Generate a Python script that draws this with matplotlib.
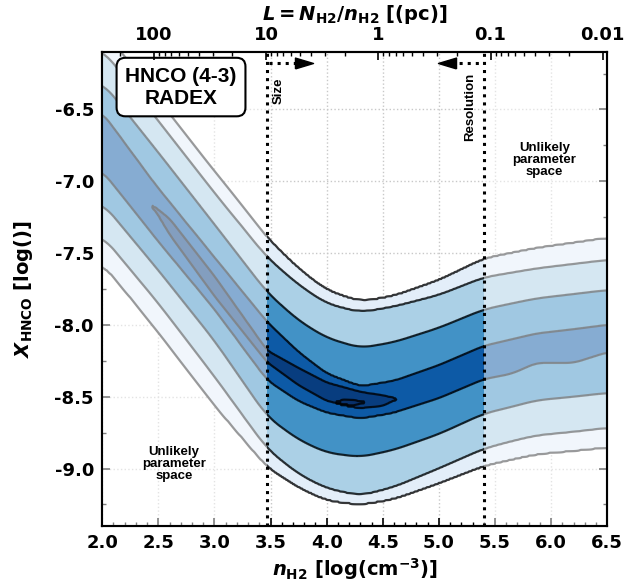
import numpy as np
import matplotlib
matplotlib.use("Agg")
import matplotlib.pyplot as plt
from matplotlib.ticker import FormatStrFormatter

plt.rcParams.update({
    "font.family": "DejaVu Sans",
    "font.weight": "bold",
    "axes.labelweight": "bold",
    "mathtext.fontset": "custom",
    "mathtext.rm": "DejaVu Sans:bold",
    "mathtext.it": "DejaVu Sans:italic:bold",
    "mathtext.bf": "DejaVu Sans:bold",
    "axes.linewidth": 1.5,
})

# ---- contour boundaries: log n_H2 vs log X_HNCO ----
n_pts = [2.0, 2.5, 3.0, 3.47, 3.75, 4.0, 4.3, 4.6, 5.0, 5.4, 5.65, 5.87, 6.2, 6.5]

upper_1 = [-5.94, -6.43, -6.93, -7.395, -7.61, -7.76, -7.84, -7.80, -7.69, -7.54, -7.50, -7.466, -7.43, -7.396]
upper_2 = [-6.08, -6.58, -7.08, -7.53, -7.72, -7.85, -7.91, -7.87, -7.79, -7.668, -7.635, -7.606, -7.575, -7.547]
upper_3 = [-6.31, -6.80, -7.30, -7.775, -7.97, -8.09, -8.16, -8.12, -8.02, -7.892, -7.85, -7.815, -7.785, -7.757]
upper_4 = [-6.52, -7.05, -7.53, -7.98, -8.19, -8.34, -8.43, -8.39, -8.28, -8.146, -8.10, -8.06, -8.03, -8.0]
lower_4 = [-6.93, -7.42, -7.89, -8.385, -8.53, -8.61, -8.65, -8.61, -8.51, -8.378, -8.34, -8.264, -8.265, -8.19]
lower_3 = [-7.15, -7.62, -8.11, -8.64, -8.80, -8.89, -8.92, -8.87, -8.76, -8.618, -8.57, -8.525, -8.50, -8.474]
lower_2 = [-7.38, -7.85, -8.36, -8.865, -9.04, -9.14, -9.19, -9.13, -9.00, -8.863, -8.81, -8.77, -8.745, -8.718]
lower_1 = [-7.57, -8.05, -8.56, -8.99, -9.13, -9.22, -9.25, -9.21, -9.10, -8.979, -8.935, -8.898, -8.875, -8.851]

# elongated high-probability ridge
n_ridge = [2.45, 2.6, 3.0, 3.47, 3.75, 4.0, 4.3, 4.5, 4.62]
upper_5 = [-7.17, -7.26, -7.66, -8.18, -8.30, -8.40, -8.465, -8.49, -8.515]
lower_5 = [-7.17, -7.37, -7.80, -8.26, -8.42, -8.53, -8.58, -8.565, -8.515]

# peak
n_peak = [4.09, 4.15, 4.25, 4.33]
upper_6 = [-8.54, -8.52, -8.525, -8.54]
lower_6 = [-8.54, -8.56, -8.56, -8.54]

band_colors = ["#e3eef9", "#abd0e6", "#4292c6", "#0d5aa6", "#083d7f", "#08306b"]

size_limit = 3.47
resolution_limit = 5.40
n_at_1pc = 4.46
L_ticks = [100, 10, 1, 0.1, 0.01]
L_labels = ["100", "10", "1", "0.1", "0.01"]


def smooth(v, width):
    pad = width // 2
    vp = np.concatenate([np.full(pad, v[0]), v, np.full(pad, v[-1])])
    return np.convolve(vp, np.ones(width) / width, mode="valid")


def curve(xf, xp, yp, width):
    out = np.full(xf.shape, np.nan)
    m = (xf >= xp[0]) & (xf <= xp[-1])
    out[m] = smooth(np.interp(xf[m], xp, yp), width)
    return out


xf = np.linspace(2.0, 6.5, 451)
yf = np.linspace(-9.6, -5.9, 371)

lows = [curve(xf, n_pts, lower_1, 23), curve(xf, n_pts, lower_2, 23),
        curve(xf, n_pts, lower_3, 23), curve(xf, n_pts, lower_4, 15),
        curve(xf, n_ridge, lower_5, 9), curve(xf, n_peak, lower_6, 3)]
highs = [curve(xf, n_pts, upper_1, 23), curve(xf, n_pts, upper_2, 23),
         curve(xf, n_pts, upper_3, 23), curve(xf, n_pts, upper_4, 15),
         curve(xf, n_ridge, upper_5, 9), curve(xf, n_peak, upper_6, 3)]

Z = np.zeros((len(yf), len(xf)))
for i in range(len(xf)):
    lo = [c[i] for c in lows if not np.isnan(c[i])]
    hi = [c[i] for c in highs if not np.isnan(c[i])]
    m = len(lo)
    mid = 0.5 * (lo[-1] + hi[-1])
    ys = [lo[0] - 1.0] + lo + [mid] + hi[::-1] + [hi[0] + 1.0]
    zs = [0] + list(range(1, m + 1)) + [m + 0.5] + list(range(m, 0, -1)) + [0]
    Z[:, i] = np.interp(yf, ys, zs)

fig = plt.figure(figsize=(6.43, 5.86), dpi=100)
ax = fig.add_axes([0.159, 0.1024, 0.7854, 0.8089])

levels = [1, 2, 3, 4, 5, 6, 7]
ax.contourf(xf, yf, Z, levels=levels, colors=band_colors, zorder=1)
ax.contour(xf, yf, Z, levels=levels[:-1], colors="k", linewidths=1.6, alpha=0.78, zorder=2)

# fade the parameter space outside the size/resolution limits
ax.axvspan(2.0, size_limit, color="white", alpha=0.5, lw=0, zorder=3)
ax.axvspan(resolution_limit, 6.5, color="white", alpha=0.5, lw=0, zorder=3)
for xl in (size_limit, resolution_limit):
    ax.axvline(xl, color="k", ls=":", lw=2.2, zorder=4)

ax.set_xlim(2.0, 6.5)
ax.set_ylim(-9.4, -6.1)
ax.set_xticks(np.arange(2.0, 6.51, 0.5))
ax.set_xticks(np.arange(2.0, 6.51, 0.1), minor=True)
ax.set_yticks(np.arange(-9.0, -6.4, 0.5))
ax.set_yticks(np.arange(-9.25, -6.1, 0.25), minor=True)
ax.xaxis.set_major_formatter(FormatStrFormatter("%.1f"))
ax.yaxis.set_major_formatter(FormatStrFormatter("%.1f"))
ax.tick_params(which="both", direction="in", top=False, right=True, labelsize=13, pad=6)
ax.tick_params(which="major", length=6, width=1.2)
ax.tick_params(which="minor", length=3, width=1)
ax.set_axisbelow(True)
ax.grid(True, which="major", ls=":", color="#c8c8c8", lw=1)

ax.set_xlabel(r"$n_{\rm H2}$ [log(cm$^{-3}$)]", fontsize=14, labelpad=3)
ax.set_ylabel(r"$X_{\rm HNCO}$ [log()]", fontsize=14, labelpad=14)

# top axis: L = N / n in pc
ax2 = ax.twiny()
ax2.set_xlim(ax.get_xlim())
ax2.set_xticks([n_at_1pc - np.log10(L) for L in L_ticks])
ax2.set_xticklabels(L_labels)
minor = []
for k in range(-3, 3):
    for mlt in range(2, 10):
        pos = n_at_1pc - np.log10(mlt * 10.0 ** k)
        if 2.0 <= pos <= 6.5:
            minor.append(pos)
ax2.set_xticks(minor, minor=True)
ax2.tick_params(which="both", direction="in", labelsize=13, pad=6)
ax2.tick_params(which="major", length=6, width=1.2)
ax2.tick_params(which="minor", length=3, width=1)
ax2.set_xlabel(r"$L = N_{\rm H2}/n_{\rm H2}$ [(pc)]", fontsize=14, labelpad=4)

# annotations
ax.text(0.156, 0.926, "HNCO (4-3)\nRADEX", transform=ax.transAxes, ha="center", va="center",
        fontsize=15, fontweight="bold", family="Liberation Sans", zorder=6,
        bbox=dict(boxstyle="round,pad=0.42", fc="white", ec="black", lw=1.5))

head_right = [(-1, -0.6), (1, 0), (-1, 0.6), (-1, -0.6)]
head_left = [(1, -0.6), (-1, 0), (1, 0.6), (1, -0.6)]
arrow_y = -6.18
ax.plot([3.49, 3.76], [arrow_y, arrow_y], ls=":", lw=2.2, color="k", zorder=6)
ax.plot([3.80], [arrow_y], marker=head_right, ms=13, color="k", lw=0, zorder=6)
ax.plot([5.11, 5.38], [arrow_y, arrow_y], ls=":", lw=2.2, color="k", zorder=6)
ax.plot([5.07], [arrow_y], marker=head_left, ms=13, color="k", lw=0, zorder=6)

ax.text(3.57, -6.37, "Size", rotation=90, ha="center", va="center", fontsize=9.5,
        fontweight="bold", family="Liberation Sans", zorder=6)
ax.text(5.28, -6.48, "Resolution", rotation=90, ha="center", va="center", fontsize=9.5,
        fontweight="bold", family="Liberation Sans", zorder=6)
for tx, ty in ((2.64, -8.97), (5.94, -6.85)):
    ax.text(tx, ty, "Unlikely\nparameter\nspace", ha="center", va="center", fontsize=9.5,
            fontweight="bold", family="Liberation Sans", linespacing=1.0, zorder=6)

fig.savefig("out.png", dpi=100)
